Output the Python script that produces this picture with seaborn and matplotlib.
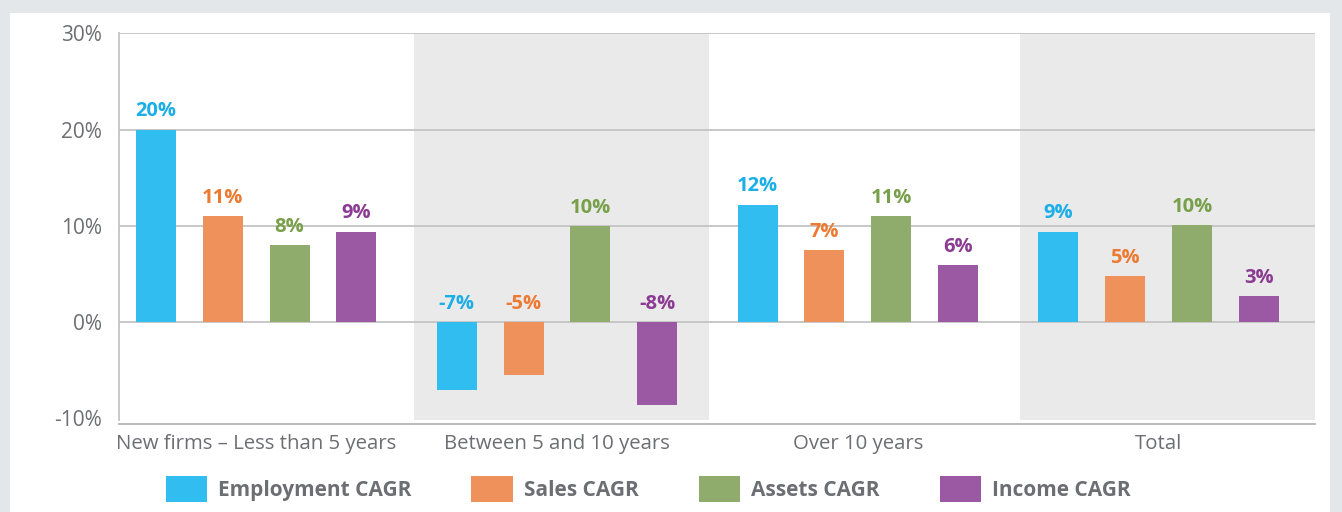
import pandas as pd
import matplotlib.pyplot as plt
import seaborn as sns
from matplotlib.patches import Rectangle

# data
groups = ['New firms – Less than 5 years', 'Between 5 and 10 years', 'Over 10 years', 'Total']
series = ['Employment CAGR', 'Sales CAGR', 'Assets CAGR', 'Income CAGR']
employment = [20.0, -7.1, 12.2, 9.4]
sales = [11.0, -5.5, 7.5, 4.8]
assets = [8.0, 10.0, 11.0, 10.1]
income = [9.4, -8.6, 5.9, 2.7]
labels = [['20%', '-7%', '12%', '9%'],
          ['11%', '-5%', '7%', '5%'],
          ['8%', '10%', '11%', '10%'],
          ['9%', '-8%', '6%', '3%']]

bar_colors = ['#31bdf0', '#ef915a', '#90ac6c', '#9c59a3']
text_colors = ['#1caee6', '#ec7a32', '#78a04a', '#8b3c92']
grey = '#6d6e73'

rows = []
for name, vals in zip(series, [employment, sales, assets, income]):
    for g, v in zip(groups, vals):
        rows.append({'group': g, 'series': name, 'value': v})
df = pd.DataFrame(rows)

sns.set_theme(style='white')
plt.rcParams['font.family'] = ['Open Sans', 'DejaVu Sans']

fig = plt.figure(figsize=(13.42, 5.12), dpi=100, facecolor='#e3e7ea')
# white panel on the grey page
fig.patches.append(Rectangle((10 / 1342, 0), 1320 / 1342, (512 - 13) / 512,
                             transform=fig.transFigure, facecolor='white',
                             edgecolor='none', zorder=-10))
ax = fig.add_axes([119 / 1342, 1 - 424 / 512, 1196 / 1342, 391 / 512])
ax.set_facecolor('none')

# shaded bands behind groups 2 and 4
for x0, x1 in [(0.525, 1.506), (2.54, 3.52)]:
    ax.fill_between([x0, x1], -10.2, 30.05, color='#eaeaea', lw=0, zorder=0)

for y in [0, 10, 20, 30]:
    ax.axhline(y, color='#c4c4c4', lw=1.3, zorder=1)

sns.barplot(data=df, x='group', y='value', hue='series', palette=bar_colors,
            width=0.888, gap=0.4, ax=ax, zorder=2, saturation=1, linewidth=0)

for i, cont in enumerate(ax.containers):
    for j, bar in enumerate(cont):
        v = bar.get_height()
        xc = bar.get_x() + bar.get_width() / 2
        ax.annotate(labels[i][j], (xc, max(v, 0)), xytext=(0, 6),
                    textcoords='offset points', ha='center', va='bottom',
                    fontsize=14.5, fontweight='bold', color=text_colors[i])

ax.set_xlim(-0.456, 3.52)
ax.set_ylim(-10.6, 30.05)
ax.set_yticks([-10, 0, 10, 20, 30])
ax.set_yticklabels(['-10%', '0%', '10%', '20%', '30%'])
ax.set_xlabel('')
ax.set_ylabel('')
ax.tick_params(axis='y', length=0, pad=12, labelsize=15, labelcolor=grey)
ax.tick_params(axis='x', length=0, pad=7, labelsize=14.7, labelcolor=grey)

for s in ['top', 'right']:
    ax.spines[s].set_visible(False)
ax.spines['left'].set_color('#c4c4c4')
ax.spines['left'].set_linewidth(1.3)
ax.spines['left'].set_bounds(-10.2, 30.05)
ax.spines['bottom'].set_color('#b4b4b8')
ax.spines['bottom'].set_linewidth(1.3)

handles, names = ax.get_legend_handles_labels()
ax.get_legend().remove()
leg = fig.legend(handles, names, loc='center', bbox_to_anchor=(648 / 1342, 1 - 489 / 512),
                 ncol=4, frameon=False, handlelength=2.0, handleheight=1.5,
                 handletextpad=0.5, columnspacing=2.9,
                 prop={'size': 15, 'weight': 'bold'})
for t in leg.get_texts():
    t.set_color(grey)

fig.savefig('out.png', dpi=100, facecolor=fig.get_facecolor())
